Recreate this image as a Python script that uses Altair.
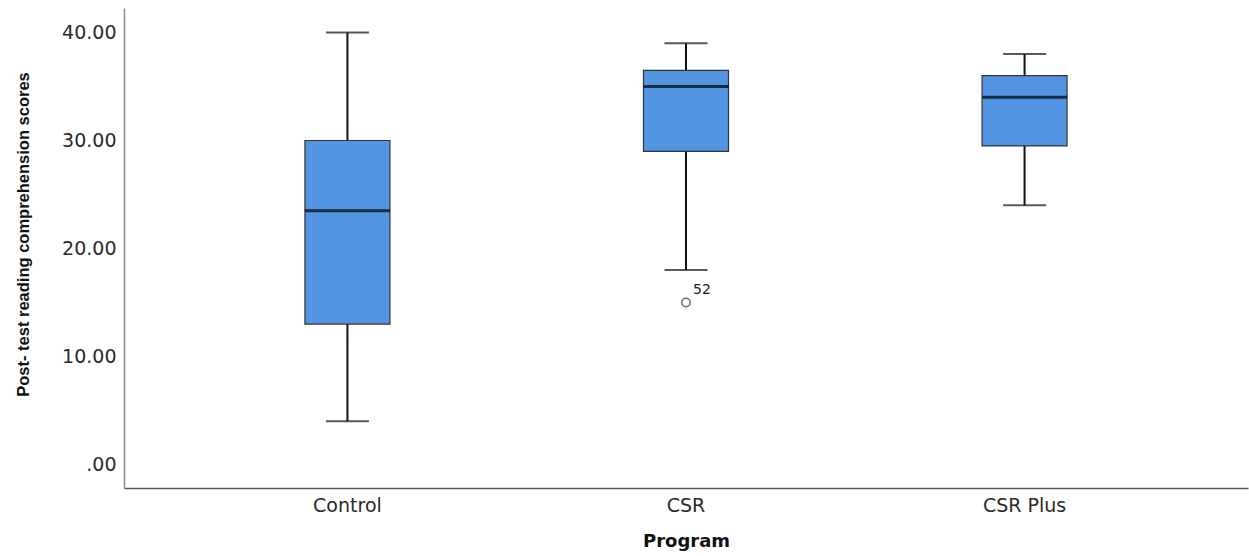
import altair as alt
import pandas as pd

# Box plot summary of post-test scores per program
programs = ["Control", "CSR", "CSR Plus"]
whisker_low = [4.0, 18.0, 24.0]
q1 = [13.0, 29.0, 29.5]
median = [23.5, 35.0, 34.0]
q3 = [30.0, 36.5, 36.0]
whisker_high = [40.0, 39.0, 38.0]

# Outlying cases
outlier_programs = ["CSR"]
outlier_values = [15.0]
outlier_cases = ["52"]

y_ticks = [0, 10, 20, 30, 40]

summary = pd.DataFrame({
    "Program": programs,
    "lo": whisker_low,
    "q1": q1,
    "med": median,
    "q3": q3,
    "hi": whisker_high,
})
outliers = pd.DataFrame({
    "Program": outlier_programs,
    "value": outlier_values,
    "case": outlier_cases,
})

x_enc = alt.X(
    "Program:N",
    sort=programs,
    scale=alt.Scale(paddingInner=0, paddingOuter=0.16),
    axis=alt.Axis(
        title="Program",
        labelAngle=0,
        ticks=False,
        labelFont="DejaVu Sans",
        labelFontSize=19,
        labelColor="#2a2a2a",
        labelPadding=8,
        domainColor="#555555",
        domainWidth=1.5,
        titleFont="DejaVu Sans",
        titleFontSize=18,
        titleFontWeight="bold",
        titleColor="#111111",
        titleY=53,
        titleBaseline="middle",
    ),
)

y_scale = alt.Scale(domain=[-2.18, 42.27], nice=False, zero=False)
y_axis = alt.Axis(
    title="Post- test reading comprehension scores",
    values=y_ticks,
    labelExpr="datum.value == 0 ? '.00' : format(datum.value, '.2f')",
    ticks=False,
    grid=False,
    labelFont="DejaVu Sans",
    labelFontSize=19,
    labelColor="#2a2a2a",
    labelPadding=8,
    domainColor="#8a8a8a",
    domainWidth=1.5,
    titleFont="Liberation Sans",
    titleFontSize=16.5,
    titleFontWeight="bold",
    titleColor="#111111",
    titleAngle=-90,
    titleX=-101,
    titleY=226,
    titleBaseline="middle",
)

base = alt.Chart(summary)

whiskers = base.mark_rule(color="#111111", strokeWidth=2).encode(
    x=x_enc,
    y=alt.Y("lo:Q", scale=y_scale, axis=y_axis),
    y2="hi:Q",
)

boxes = base.mark_bar(
    size=85, fill="#5394E3", stroke="#333333", strokeWidth=1.2
).encode(
    x=x_enc,
    y=alt.Y("q1:Q", scale=y_scale, axis=y_axis),
    y2="q3:Q",
)

medians = base.mark_tick(color="#000000", size=85, thickness=3).encode(
    x=x_enc,
    y=alt.Y("med:Q", scale=y_scale, axis=y_axis),
)

caps_low = base.mark_tick(color="#111111", size=43, thickness=2).encode(
    x=x_enc,
    y=alt.Y("lo:Q", scale=y_scale, axis=y_axis),
)
caps_high = base.mark_tick(color="#111111", size=43, thickness=2).encode(
    x=x_enc,
    y=alt.Y("hi:Q", scale=y_scale, axis=y_axis),
)

out_base = alt.Chart(outliers)
out_points = out_base.mark_point(
    shape="circle", filled=False, size=70, stroke="#333333", strokeWidth=1.6
).encode(
    x=x_enc,
    y=alt.Y("value:Q", scale=y_scale, axis=y_axis),
)
out_labels = out_base.mark_text(
    align="left", baseline="middle", dx=7, dy=-12,
    font="DejaVu Sans", fontSize=14, color="#222222",
).encode(
    x=x_enc,
    y=alt.Y("value:Q", scale=y_scale, axis=y_axis),
    text="case:N",
)

chart = (
    alt.layer(whiskers, boxes, medians, caps_low, caps_high, out_points, out_labels)
    .properties(
        width=1124,
        height=480,
        autosize=alt.AutoSizeParams(type="none"),
        padding={"left": 124, "top": 8, "right": 1, "bottom": 68},
        background="#ffffff",
    )
    .configure_view(stroke=None)
)

chart.save("out.html", embed_options={"renderer": "svg", "actions": False})
